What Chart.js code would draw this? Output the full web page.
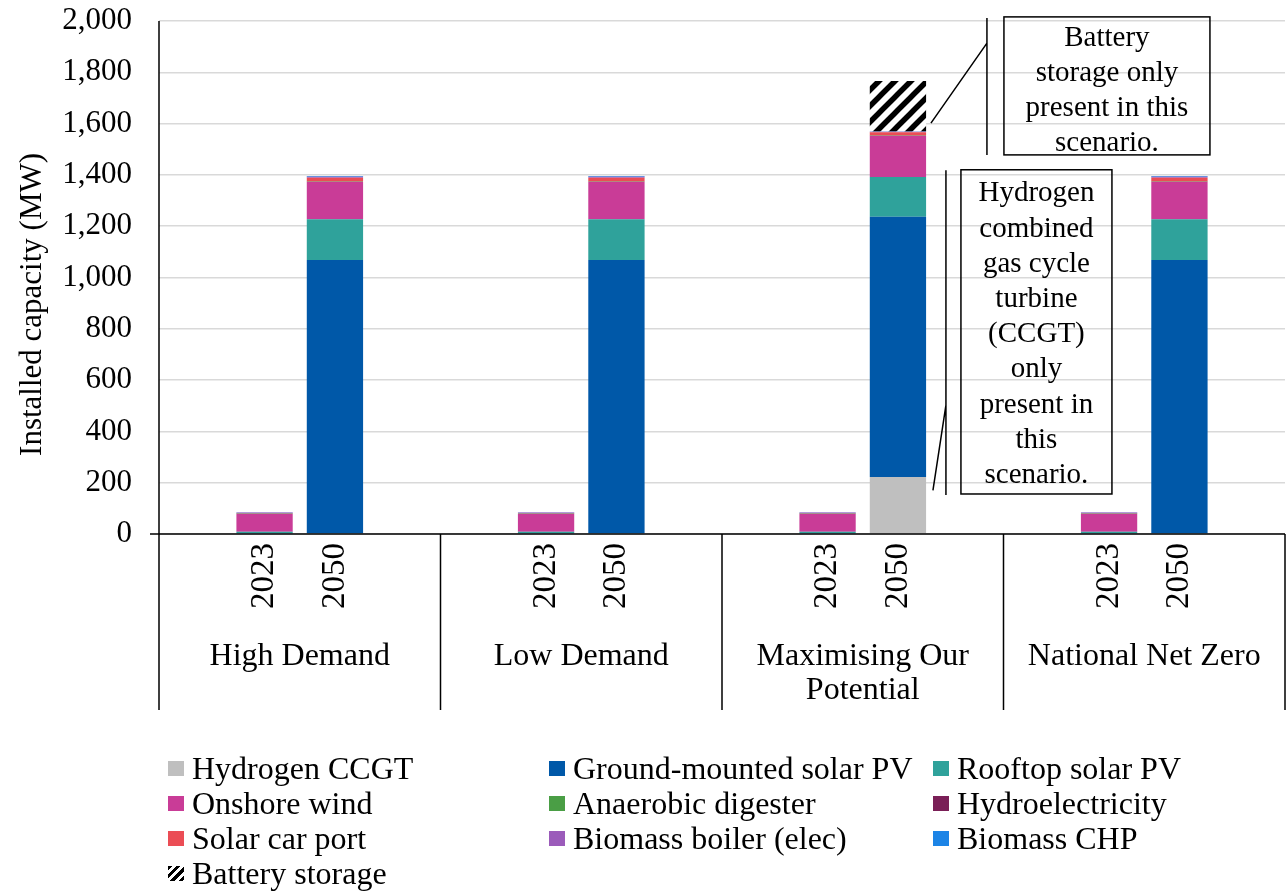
<!DOCTYPE html>
<html>
<head>
<meta charset="utf-8">
<script src="https://cdn.jsdelivr.net/npm/chart.js@4.4.0/dist/chart.umd.min.js"></script>
<style>
  body { margin: 0; background: #fff; }
  #wrap { position: relative; width: 1287px; height: 892px; }
  #legend { position: absolute; left: 0; top: 0; font-family: "Liberation Serif", "Times New Roman", serif; font-size: 32px; color: #000; }
  .item { position: absolute; white-space: nowrap; display: flex; align-items: center; height: 35px; }
  .swatch { width: 16px; height: 15px; margin-right: 8px; flex: none; }
</style>
</head>
<body>
<div id="wrap">
  <canvas id="chart" width="1287" height="892"></canvas>
  <div id="legend"></div>
</div>
<script>
const scenarios = ["High Demand", "Low Demand", "Maximising Our Potential", "National Net Zero"];
const years = ["2023", "2050"];

// values per scenario/year: HD23, HD50, LD23, LD50, MOP23, MOP50, NNZ23, NNZ50
const hydrogenCCGT = [0, 0, 0, 0, 0, 222, 0, 0];
const groundSolar = [4, 1068, 4, 1068, 4, 1015, 4, 1068];
const rooftopSolar = [5, 159, 5, 159, 5, 155, 5, 159];
const onshoreWind = [70, 145, 70, 145, 70, 160, 70, 145];
const anaerobicDigester = [2, 1, 2, 1, 2, 1, 2, 1];
const hydroelectricity = [1, 1, 1, 1, 1, 1, 1, 1];
const solarCarPort = [0, 15, 0, 15, 0, 12, 0, 15];
const biomassBoiler = [2, 4, 2, 4, 2, 2, 2, 4];
const biomassCHP = [1, 3, 1, 3, 1, 1, 1, 3];
const batteryStorage = [0, 0, 0, 0, 0, 197, 0, 0];

const yTicks = [0, 200, 400, 600, 800, 1000, 1200, 1400, 1600, 1800, 2000];

const FONT = '"Liberation Serif", "Times New Roman", serif';

// each scenario gets a blank slot either side of its two years
const labels = [];
scenarios.forEach(() => labels.push("", years[0], years[1], ""));

function expand(vals) {
  const out = [];
  for (let s = 0; s < scenarios.length; s++) {
    out.push(null, vals[s * 2], vals[s * 2 + 1], null);
  }
  return out;
}

function makeHatch() {
  const c = document.createElement("canvas");
  c.width = 16;
  c.height = 16;
  const g = c.getContext("2d");
  g.fillStyle = "#fff";
  g.fillRect(0, 0, 16, 16);
  g.strokeStyle = "#000";
  g.lineWidth = 5.5;
  g.beginPath();
  g.moveTo(-8, 8); g.lineTo(8, -8);
  g.moveTo(0, 16); g.lineTo(16, 0);
  g.moveTo(8, 24); g.lineTo(24, 8);
  g.stroke();
  return c;
}
const hatch = document.getElementById("chart").getContext("2d").createPattern(makeHatch(), "repeat");

const series = [
  { label: "Hydrogen CCGT", data: hydrogenCCGT, color: "#BFBFBF" },
  { label: "Ground-mounted solar PV", data: groundSolar, color: "#0058A8" },
  { label: "Rooftop solar PV", data: rooftopSolar, color: "#2FA29B" },
  { label: "Onshore wind", data: onshoreWind, color: "#C93C97" },
  { label: "Anaerobic digester", data: anaerobicDigester, color: "#4A9E45" },
  { label: "Hydroelectricity", data: hydroelectricity, color: "#7A1F57" },
  { label: "Solar car port", data: solarCarPort, color: "#EB4D55" },
  { label: "Biomass boiler (elec)", data: biomassBoiler, color: "#9B5BBA" },
  { label: "Biomass CHP", data: biomassCHP, color: "#1C84E6" },
  { label: "Battery storage", data: batteryStorage, color: hatch, hatched: true }
];

const datasets = series.map(s => ({
  label: s.label,
  data: expand(s.data),
  backgroundColor: s.color,
  borderWidth: 0,
  barPercentage: 0.8,
  categoryPercentage: 1.0
}));

function wrapText(ctx, text, maxW) {
  const words = text.split(" ");
  const lines = [];
  let cur = "";
  words.forEach(w => {
    const t = cur ? cur + " " + w : w;
    if (ctx.measureText(t).width > maxW && cur) {
      lines.push(cur);
      cur = w;
    } else {
      cur = t;
    }
  });
  lines.push(cur);
  return lines;
}

const axesPlugin = {
  id: "axesPlugin",
  afterDraw(chart) {
    const { ctx, chartArea: a, scales: { x, y } } = chart;
    const step = x.getPixelForValue(1) - x.getPixelForValue(0);
    ctx.save();
    ctx.strokeStyle = "#000";
    ctx.lineWidth = 1.5;
    ctx.beginPath();
    // zero line with outside tick
    ctx.moveTo(a.left - 9, y.getPixelForValue(0));
    ctx.lineTo(a.right, y.getPixelForValue(0));
    // value axis, continues down through the category levels
    ctx.moveTo(a.left, a.top);
    ctx.lineTo(a.left, x.bottom);
    // group separators
    for (let s = 1; s <= scenarios.length; s++) {
      const px = x.getPixelForValue(s * 4 - 1) + step / 2;
      ctx.moveTo(px, a.bottom);
      ctx.lineTo(px, x.bottom);
    }
    ctx.stroke();

    ctx.fillStyle = "#000";
    ctx.textAlign = "center";
    ctx.textBaseline = "middle";

    // y title
    ctx.save();
    ctx.font = "31px " + FONT;
    ctx.translate(33, y.getPixelForValue(895));
    ctx.rotate(-Math.PI / 2);
    ctx.fillText("Installed capacity (MW)", 0, 0);
    ctx.restore();

    // group labels
    ctx.font = "32px " + FONT;
    scenarios.forEach((name, s) => {
      const cx = (x.getPixelForValue(s * 4 + 1) + x.getPixelForValue(s * 4 + 2)) / 2;
      const lines = wrapText(ctx, name, step * 4 - 30);
      lines.forEach((ln, i) => ctx.fillText(ln, cx, a.bottom + 123 + i * 34));
    });
    ctx.restore();
  }
};

const notePlugin = {
  id: "notePlugin",
  afterDraw(chart) {
    const { ctx, scales: { x, y } } = chart;
    const xb = x.getPixelForValue(10);
    ctx.save();
    ctx.strokeStyle = "#000";
    ctx.lineWidth = 1.5;
    ctx.fillStyle = "#000";
    ctx.font = "29px " + FONT;
    ctx.textAlign = "center";
    ctx.textBaseline = "middle";

    // battery note
    ctx.beginPath();
    ctx.moveTo(xb + 33, y.getPixelForValue(1602));
    ctx.lineTo(xb + 89, y.getPixelForValue(1914));
    ctx.moveTo(xb + 89, y.getPixelForValue(2012));
    ctx.lineTo(xb + 89, y.getPixelForValue(1478));
    ctx.stroke();
    const b1 = { l: xb + 106, r: xb + 312, t: y.getPixelForValue(2016), b: y.getPixelForValue(1478) };
    ctx.strokeRect(b1.l, b1.t, b1.r - b1.l, b1.b - b1.t);
    ["Battery", "storage only", "present in this", "scenario."].forEach((ln, i) => {
      ctx.fillText(ln, (b1.l + b1.r) / 2, b1.t + 21 + i * 35);
    });

    // hydrogen note
    ctx.beginPath();
    ctx.moveTo(xb + 35, y.getPixelForValue(170));
    ctx.lineTo(xb + 48, y.getPixelForValue(502));
    ctx.moveTo(xb + 48, y.getPixelForValue(1418));
    ctx.lineTo(xb + 48, y.getPixelForValue(152));
    ctx.stroke();
    const b2 = { l: xb + 63, r: xb + 214, t: y.getPixelForValue(1420), b: y.getPixelForValue(156) };
    ctx.strokeRect(b2.l, b2.t, b2.r - b2.l, b2.b - b2.t);
    ["Hydrogen", "combined", "gas cycle", "turbine", "(CCGT)", "only", "present in", "this", "scenario."].forEach((ln, i) => {
      ctx.fillText(ln, (b2.l + b2.r) / 2, b2.t + 24 + i * 35.2);
    });
    ctx.restore();
  }
};

Chart.defaults.font.family = FONT;
Chart.defaults.color = "#000";

new Chart(document.getElementById("chart"), {
  type: "bar",
  data: { labels: labels, datasets: datasets },
  options: {
    responsive: false,
    animation: false,
    layout: { padding: { top: 21, right: 2, bottom: 182, left: 0 } },
    plugins: {
      legend: { display: false },
      tooltip: { enabled: false }
    },
    scales: {
      x: {
        stacked: true,
        grid: { display: false },
        border: { display: false },
        ticks: {
          autoSkip: false,
          minRotation: 90,
          maxRotation: 90,
          padding: 1,
          font: { size: 33 }
        },
        afterFit(scale) {
          scale.height = 176;
          scale.paddingLeft = 0;
          scale.paddingRight = 0;
        }
      },
      y: {
        stacked: true,
        min: 0,
        max: 2000,
        afterBuildTicks(scale) { scale.ticks = yTicks.map(v => ({ value: v })); },
        grid: { color: "#D9D9D9", lineWidth: 1.5, drawTicks: false },
        border: { display: false },
        ticks: {
          padding: 27,
          font: { size: 31 },
          callback: v => v.toLocaleString("en-US")
        },
        afterFit(scale) {
          scale.width = 159;
          scale.paddingTop = 0;
          scale.paddingBottom = 0;
        }
      }
    }
  },
  plugins: [axesPlugin, notePlugin]
});

// legend, three columns (x = where the text starts)
const legendCols = [192, 573, 957];
const legendRows = [768, 803, 838, 873];
const legend = document.getElementById("legend");
series.forEach((s, i) => {
  const item = document.createElement("div");
  item.className = "item";
  item.style.left = (legendCols[i % 3] - 24) + "px";
  item.style.top = (legendRows[Math.floor(i / 3)] - 17.5) + "px";
  const sw = document.createElement("span");
  sw.className = "swatch";
  sw.style.background = s.hatched
    ? "repeating-linear-gradient(135deg, #000 0 3px, #fff 3px 6px)"
    : s.color;
  const txt = document.createElement("span");
  txt.textContent = s.label;
  item.appendChild(sw);
  item.appendChild(txt);
  legend.appendChild(item);
});
</script>
</body>
</html>
